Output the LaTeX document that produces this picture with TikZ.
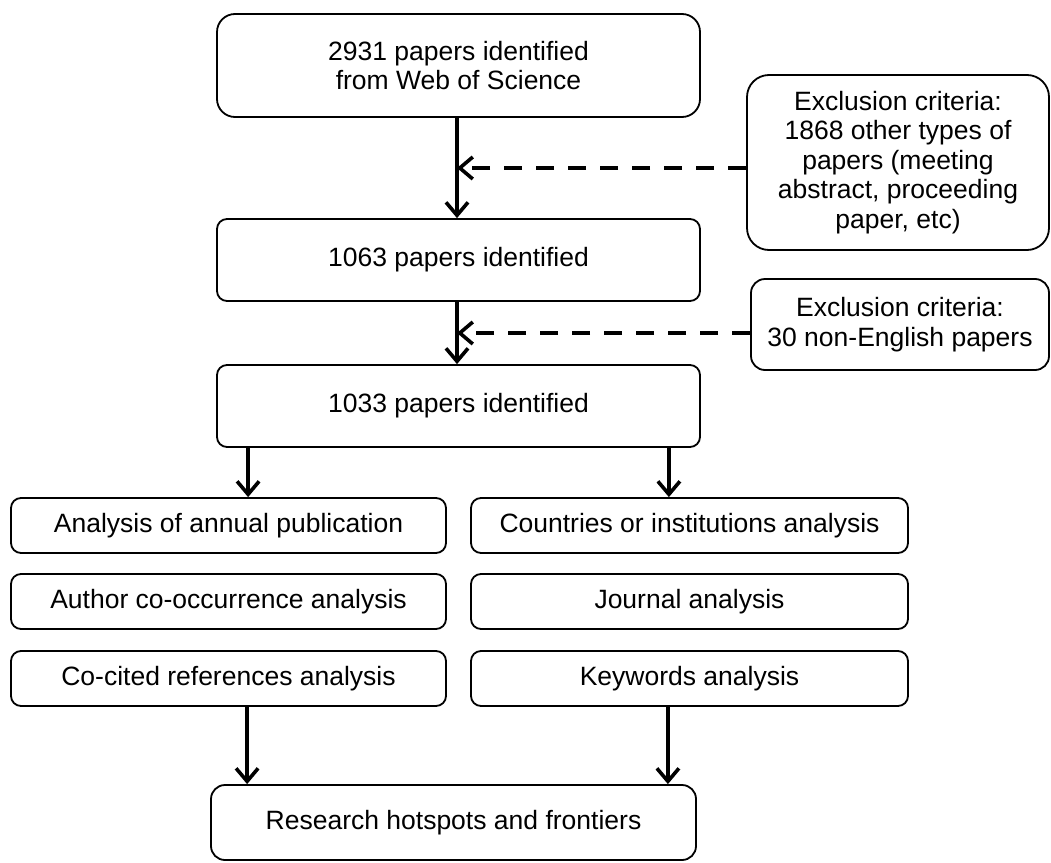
\documentclass[tikz,border=0pt]{standalone}
\usepackage{fontspec}
\setmainfont{Liberation Sans}
\usetikzlibrary{arrows.meta}
\begin{document}
\begin{tikzpicture}[x=1pt,y=-1pt,
  box/.style={draw, line width=1.8pt, rounded corners=10pt, align=center, inner sep=0pt,
    font=\fontsize{26.5}{29.5}\selectfont},
  bigbox/.style={box, rounded corners=18pt},
  exbox/.style={box, rounded corners=22pt},
  arr/.style={line width=3.8pt, -{Straight Barb[length=13pt,width=22pt,line width=3.6pt]}},
  darr/.style={line width=4pt, dash pattern=on 18pt off 14pt, -{Straight Barb[length=13pt,width=22pt,line width=3.6pt]}}
]
\useasboundingbox (0,0) rectangle (1051,862);
\node[bigbox, minimum width=483pt, minimum height=103pt] (top) at (458.5,65.5) {2931 papers identified\\from Web of Science};
\node[box, minimum width=483pt, minimum height=82pt] (n1063) at (458.5,260) {1063 papers identified};
\node[box, minimum width=483pt, minimum height=82pt] (n1033) at (458.5,406) {1033 papers identified};
\node[exbox, minimum width=302pt, minimum height=175pt] (ex1) at (898,162.5) {Exclusion criteria:\\1868 other types of\\papers (meeting\\abstract, proceeding\\paper, etc)};
\node[box, rounded corners=14pt, minimum width=298pt, minimum height=91pt] (ex2) at (900,324.5) {Exclusion criteria:\\30 non-English papers};
\node[box, minimum width=435pt, minimum height=55pt] (L1) at (228.5,525.5) {Analysis of annual publication};
\node[box, minimum width=435pt, minimum height=55pt] (L2) at (228.5,601.5) {Author co-occurrence analysis};
\node[box, minimum width=435pt, minimum height=55pt] (L3) at (228.5,678.5) {Co-cited references analysis};
\node[box, minimum width=437pt, minimum height=55pt] (R1) at (689.5,525.5) {Countries or institutions analysis};
\node[box, minimum width=437pt, minimum height=55pt] (R2) at (689.5,601.5) {Journal analysis};
\node[box, minimum width=437pt, minimum height=55pt] (R3) at (689.5,678.5) {Keywords analysis};
\node[box, rounded corners=14pt, minimum width=485pt, minimum height=75pt] (fin) at (453.5,822.5) {Research hotspots and frontiers};
% main flow
\draw[arr] ([xshift=-1.5pt]top.south) -- ([xshift=-1.5pt]n1063.north);
\draw[arr] ([xshift=-1.5pt]n1063.south) -- ([xshift=-1.5pt]n1033.north);
\draw[darr] ([yshift=-5.5pt]ex1.west) -- ([yshift=-5.5pt,xshift=-1.5pt]ex1.west -| top.south);
\draw[darr] ([yshift=-8.5pt]ex2.west) -- ([yshift=-8.5pt,xshift=-1.5pt]ex2.west -| n1063.south);
% split
\draw[arr] ([xshift=32pt]n1033.south west) -- ([xshift=32pt]n1033.south west |- L1.north);
\draw[arr] ([xshift=-32pt]n1033.south east) -- ([xshift=-32pt]n1033.south east |- R1.north);
% merge
\draw[arr] ([xshift=31pt]n1033.south west |- L3.south) -- ([xshift=31pt]n1033.south west |- fin.north);
\draw[arr] ([xshift=-33pt]n1033.south east |- R3.south) -- ([xshift=-33pt]n1033.south east |- fin.north);
\end{tikzpicture}
\end{document}
